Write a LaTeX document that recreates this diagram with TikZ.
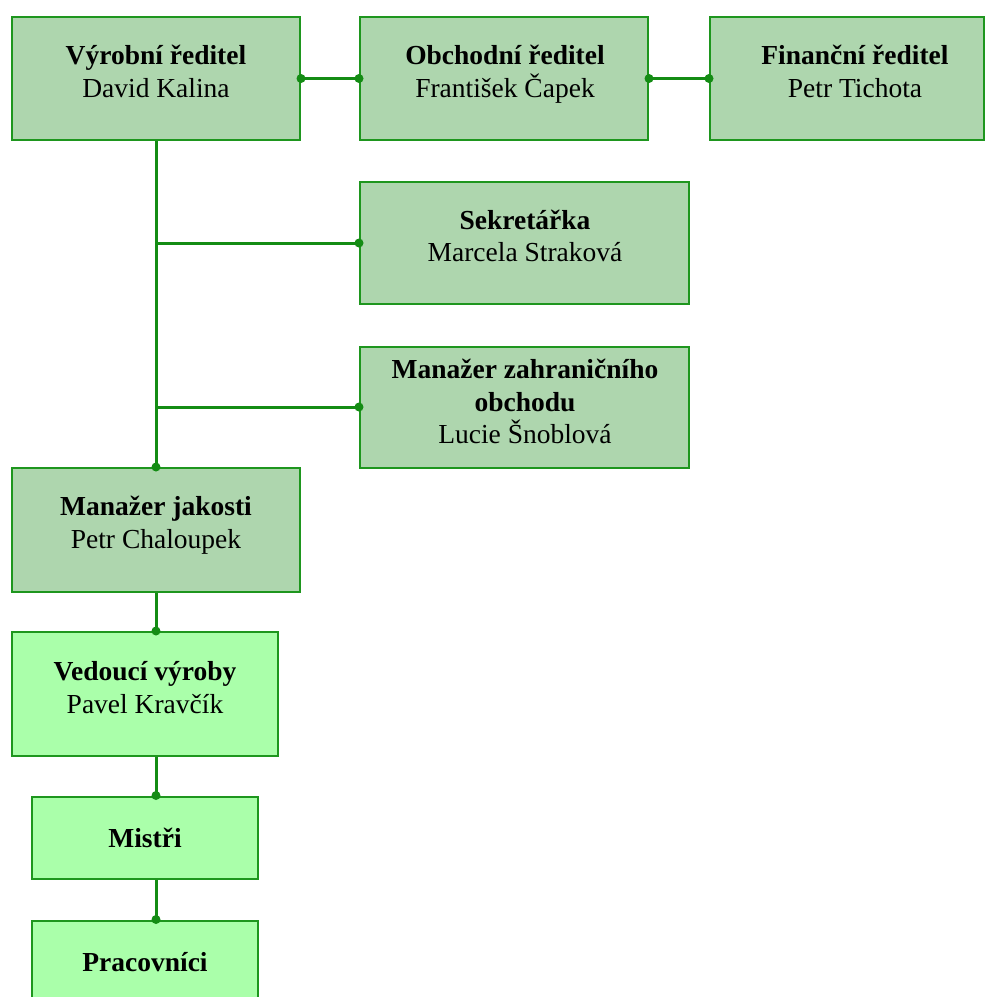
\documentclass[tikz,border=0pt]{standalone}
\usepackage{fontspec}
\setmainfont{Liberation Serif}
\definecolor{boxline}{RGB}{30,150,30}
\definecolor{conn}{RGB}{20,140,20}
\definecolor{fillA}{RGB}{174,214,174}
\definecolor{fillB}{RGB}{170,255,170}
\begin{document}
\begin{tikzpicture}[x=1pt,y=-1pt,
  orgbox/.style={draw=boxline,line width=2pt,rectangle,inner sep=0pt},
  darkbox/.style={orgbox,fill=fillA},
  lightbox/.style={orgbox,fill=fillB},
  txt/.style={anchor=base,inner sep=0pt,font=\fontsize{27.5}{33}\selectfont},
  ttl/.style={txt,font=\fontsize{27.5}{33}\selectfont\bfseries},
  conline/.style={draw=conn,line width=3pt},
  dot/.style={circle,fill=conn,inner sep=0pt,minimum size=9pt}]
\useasboundingbox (0,0) rectangle (985,997);
% boxes
\node[darkbox,minimum width=288pt,minimum height=123pt] (vr) at (156,78.5) {};
\node[darkbox,minimum width=288pt,minimum height=123pt] (or) at (504,78.5) {};
\node[darkbox,minimum width=274pt,minimum height=123pt] (fr) at (847,78.5) {};
\node[darkbox,minimum width=329pt,minimum height=122pt] (sk) at (524.5,243) {};
\node[darkbox,minimum width=329pt,minimum height=121pt] (mz) at (524.5,407) {};
\node[darkbox,minimum width=288pt,minimum height=124pt] (mj) at (156,530) {};
\node[lightbox,minimum width=266pt,minimum height=124pt] (vv) at (145,694) {};
\node[lightbox,minimum width=226pt,minimum height=82pt] (mi) at (145,837.5) {};
\node[lightbox,minimum width=226pt,minimum height=82pt] (pr) at (145,961.5) {};
% texts
\node[ttl] (vr1) at (156,64) {Výrobní ředitel};
\node[txt] (vr2) at (156,97) {David Kalina};
\node[ttl] (or1) at (505,64) {Obchodní ředitel};
\node[txt] (or2) at (505,97) {František Čapek};
\node[ttl] (fr1) at (855,64) {Finanční ředitel};
\node[txt] (fr2) at (855,97) {Petr Tichota};
\node[ttl] (sk1) at (525,229) {Sekretářka};
\node[txt] (sk2) at (525,261) {Marcela Straková};
\node[ttl] (mz1) at (525,378.5) {Manažer zahraničního};
\node[ttl] (mz2) at (525,411) {obchodu};
\node[txt] (mz3) at (525,443) {Lucie Šnoblová};
\node[ttl] (mj1) at (156,515) {Manažer jakosti};
\node[txt] (mj2) at (156,548) {Petr Chaloupek};
\node[ttl] (vv1) at (145,680) {Vedoucí výroby};
\node[txt] (vv2) at (145,713) {Pavel Kravčík};
\node[ttl] (mi1) at (145,847.5) {Mistři};
\node[ttl] (pr1) at (145,971) {Pracovníci};
% connectors
\draw[conline] (vr.east) -- (or.west);
\draw[conline] (or.east) -- (fr.west);
\draw[conline] (vr.south) -- (mj.north);
\draw[conline] (vr.south |- sk.west) -- (sk.west);
\draw[conline] (vr.south |- mz.west) -- (mz.west);
\draw[conline] (mj.south) -- (mj.south |- vv.north);
\draw[conline] (mj.south |- vv.south) -- (mj.south |- mi.north);
\draw[conline] (mj.south |- mi.south) -- (mj.south |- pr.north);
% dots
\node[dot] (d1) at (vr.east) {};
\node[dot] (d2) at (or.west) {};
\node[dot] (d3) at (or.east) {};
\node[dot] (d4) at (fr.west) {};
\node[dot] (d5) at (sk.west) {};
\node[dot] (d6) at (mz.west) {};
\node[dot] (d7) at (mj.north) {};
\node[dot] (d8) at (mj.south |- vv.north) {};
\node[dot] (d9) at (mj.south |- mi.north) {};
\node[dot] (d10) at (mj.south |- pr.north) {};
\end{tikzpicture}
\end{document}
